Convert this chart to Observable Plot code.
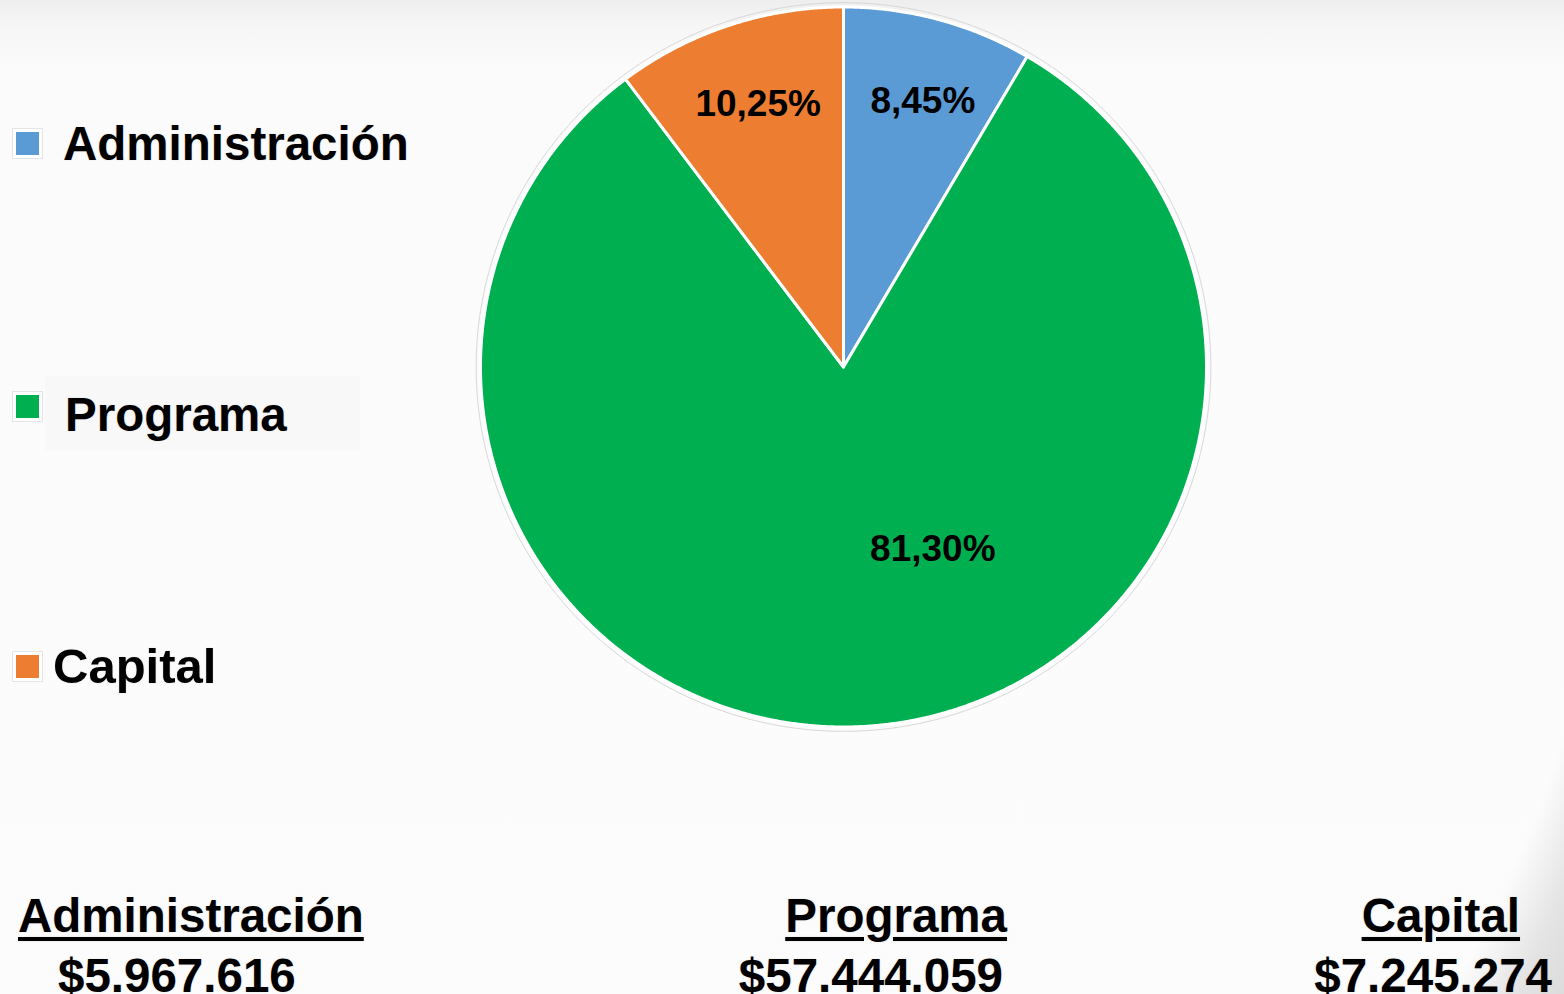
<!DOCTYPE html>
<html>
<head>
<meta charset="utf-8">
<script src="https://cdn.jsdelivr.net/npm/d3@7"></script>
<script src="https://cdn.jsdelivr.net/npm/@observablehq/plot@0.6"></script>
<style>
  html, body { margin: 0; padding: 0; }
  body { width: 1564px; height: 994px; overflow: hidden; background: #fcfcfc;
         font-family: "Liberation Sans", Arial, sans-serif; }
  #wrap { position: relative; width: 1564px; height: 994px; overflow: hidden;
          background: linear-gradient(#eeeeee 0px, #f6f6f6 25px, #fbfbfb 70px, #fcfcfc 100%); }
  #corner { position: absolute; left: 0; top: 0; width: 1564px; height: 994px;
            background: radial-gradient(ellipse 1069px 1295px at 625px 298px,
              rgba(252,252,252,0) 0%, rgba(252,252,252,0) 94%, rgba(228,228,228,1) 99%, rgba(214,214,214,1) 106%); }
  #chart { position: absolute; left: 0; top: 0; }
  .t { position: absolute; font-weight: bold; color: #000; white-space: nowrap; line-height: 1;
       text-shadow: 0 0 2px rgba(0,0,0,0.12); }
  .u { text-decoration: underline; text-decoration-thickness: 4px; text-underline-offset: 5px; }
  .sw { position: absolute; width: 23px; height: 23px;
        box-shadow: 0 0 0 3px #ffffff, 0 0 0 4px #e4e4e4; }
  #pbox { position: absolute; left: 45px; top: 376px; width: 315px; height: 74px; background: #f8f8f8; }
</style>
</head>
<body>
<div id="wrap">
  <div id="corner"></div>
  <div id="pbox"></div>
  <div id="chart"></div>
</div>
<script>
// ---- data ----
const categories = ["Administración", "Programa", "Capital"];
const amounts = [5967616, 57444059, 7245274];
const colors = ["#5B9BD5", "#00B050", "#ED7D31"];

// ---- layout constants ----
const W = 1564, H = 994;
const cx = 843, cy = 366.5, Rx = 363, Ry = 360;

const loc = d3.formatLocale({decimal: ",", thousands: ".", grouping: [3], currency: ["$", ""]});
const fmtMoney = loc.format("$,d");
const fmtPct = loc.format(".2%");

const total = d3.sum(amounts);
const data = categories.map((c, i) => ({category: c, value: amounts[i], color: colors[i], share: amounts[i] / total}));

const arcs = d3.pie().sort(null).value(d => d.value).startAngle(0).endAngle(2 * Math.PI)(data);

// Polygon vertices of each slice in unit-circle coordinates (y up)
function arcPoints(a0, a1, r, withCenter) {
  const pts = withCenter ? [{x: 0, y: 0}] : [];
  const n = Math.max(2, Math.ceil((a1 - a0) / (Math.PI / 720)));
  for (let k = 0; k <= n; k++) {
    const t = a0 + (a1 - a0) * k / n;
    pts.push({x: r * Math.sin(t), y: r * Math.cos(t)});
  }
  return pts;
}

// label placement styles (radius fraction + pixel nudge) per slice
const labelStyle = {
  "Administración": {r: 0.76, dx: 7, dy: -2},
  "Programa": {r: 0.55, dx: 78, dy: -16},
  "Capital": {r: 0.76, dx: 2, dy: -3}
};
const font = "'Liberation Sans', Arial, sans-serif";

const marks = [];
// faint outer outline
marks.push(Plot.line(arcPoints(0, 2 * Math.PI, 1.012, false), {
  x: "x", y: "y", curve: "linear-closed", fill: "none", stroke: "#d6d6d6", strokeWidth: 1
}));
arcs.forEach(a => marks.push(Plot.line(arcPoints(a.startAngle, a.endAngle, 1, true), {
  x: "x", y: "y", curve: "linear-closed",
  fill: a.data.color, stroke: "#ffffff", strokeWidth: 3, strokeLinejoin: "round"
})));
arcs.forEach(a => {
  const s = labelStyle[a.data.category];
  const m = (a.startAngle + a.endAngle) / 2;
  marks.push(Plot.text([{x: s.r * Math.sin(m), y: s.r * Math.cos(m), text: fmtPct(a.data.share)}], {
    x: "x", y: "y", text: "text", fontSize: 37, fontWeight: "bold", fontFamily: font,
    fill: "#000", dx: s.dx, dy: s.dy
  }));
});

const plot = Plot.plot({
  width: W, height: H, margin: 0,
  style: {background: "transparent", overflow: "visible"},
  x: {domain: [-cx / Rx, (W - cx) / Rx], axis: null},
  y: {domain: [(cy - H) / Ry, cy / Ry], axis: null},
  marks
});
document.getElementById("chart").appendChild(plot);

// ---- legend (left) and amounts (bottom) as HTML text ----
const wrap = document.getElementById("wrap");
function addText(txt, fs, baseline, opts, cls) {
  const el = document.createElement("div");
  el.className = "t" + (cls ? " " + cls : "");
  el.textContent = txt;
  el.style.fontSize = fs + "px";
  el.style.top = (baseline - 0.8465 * fs) + "px";
  if (opts.left != null) el.style.left = opts.left + "px";
  if (opts.right != null) el.style.right = opts.right + "px";
  wrap.appendChild(el);
}
const legendBaselines = [160, 431, 683];
const legendLeft = [63, 65, 53];
const legendSize = [47.5, 47.5, 49];
const swatchTop = [132, 395, 655];
data.forEach((d, i) => {
  const sw = document.createElement("div");
  sw.className = "sw";
  sw.style.left = "16px";
  sw.style.top = swatchTop[i] + "px";
  sw.style.background = d.color;
  wrap.appendChild(sw);
  addText(d.category, legendSize[i], legendBaselines[i], {left: legendLeft[i]});
});

const bottomPos = [
  {name: {left: 18}, val: {left: 58}},
  {name: {right: W - 1007}, val: {right: W - 1003}},
  {name: {right: W - 1520}, val: {right: W - 1552}}
];
data.forEach((d, i) => {
  addText(d.category, 47.5, 932, bottomPos[i].name, "u");
  addText(fmtMoney(d.value), 47.5, 992, bottomPos[i].val);
});
</script>
</body>
</html>
